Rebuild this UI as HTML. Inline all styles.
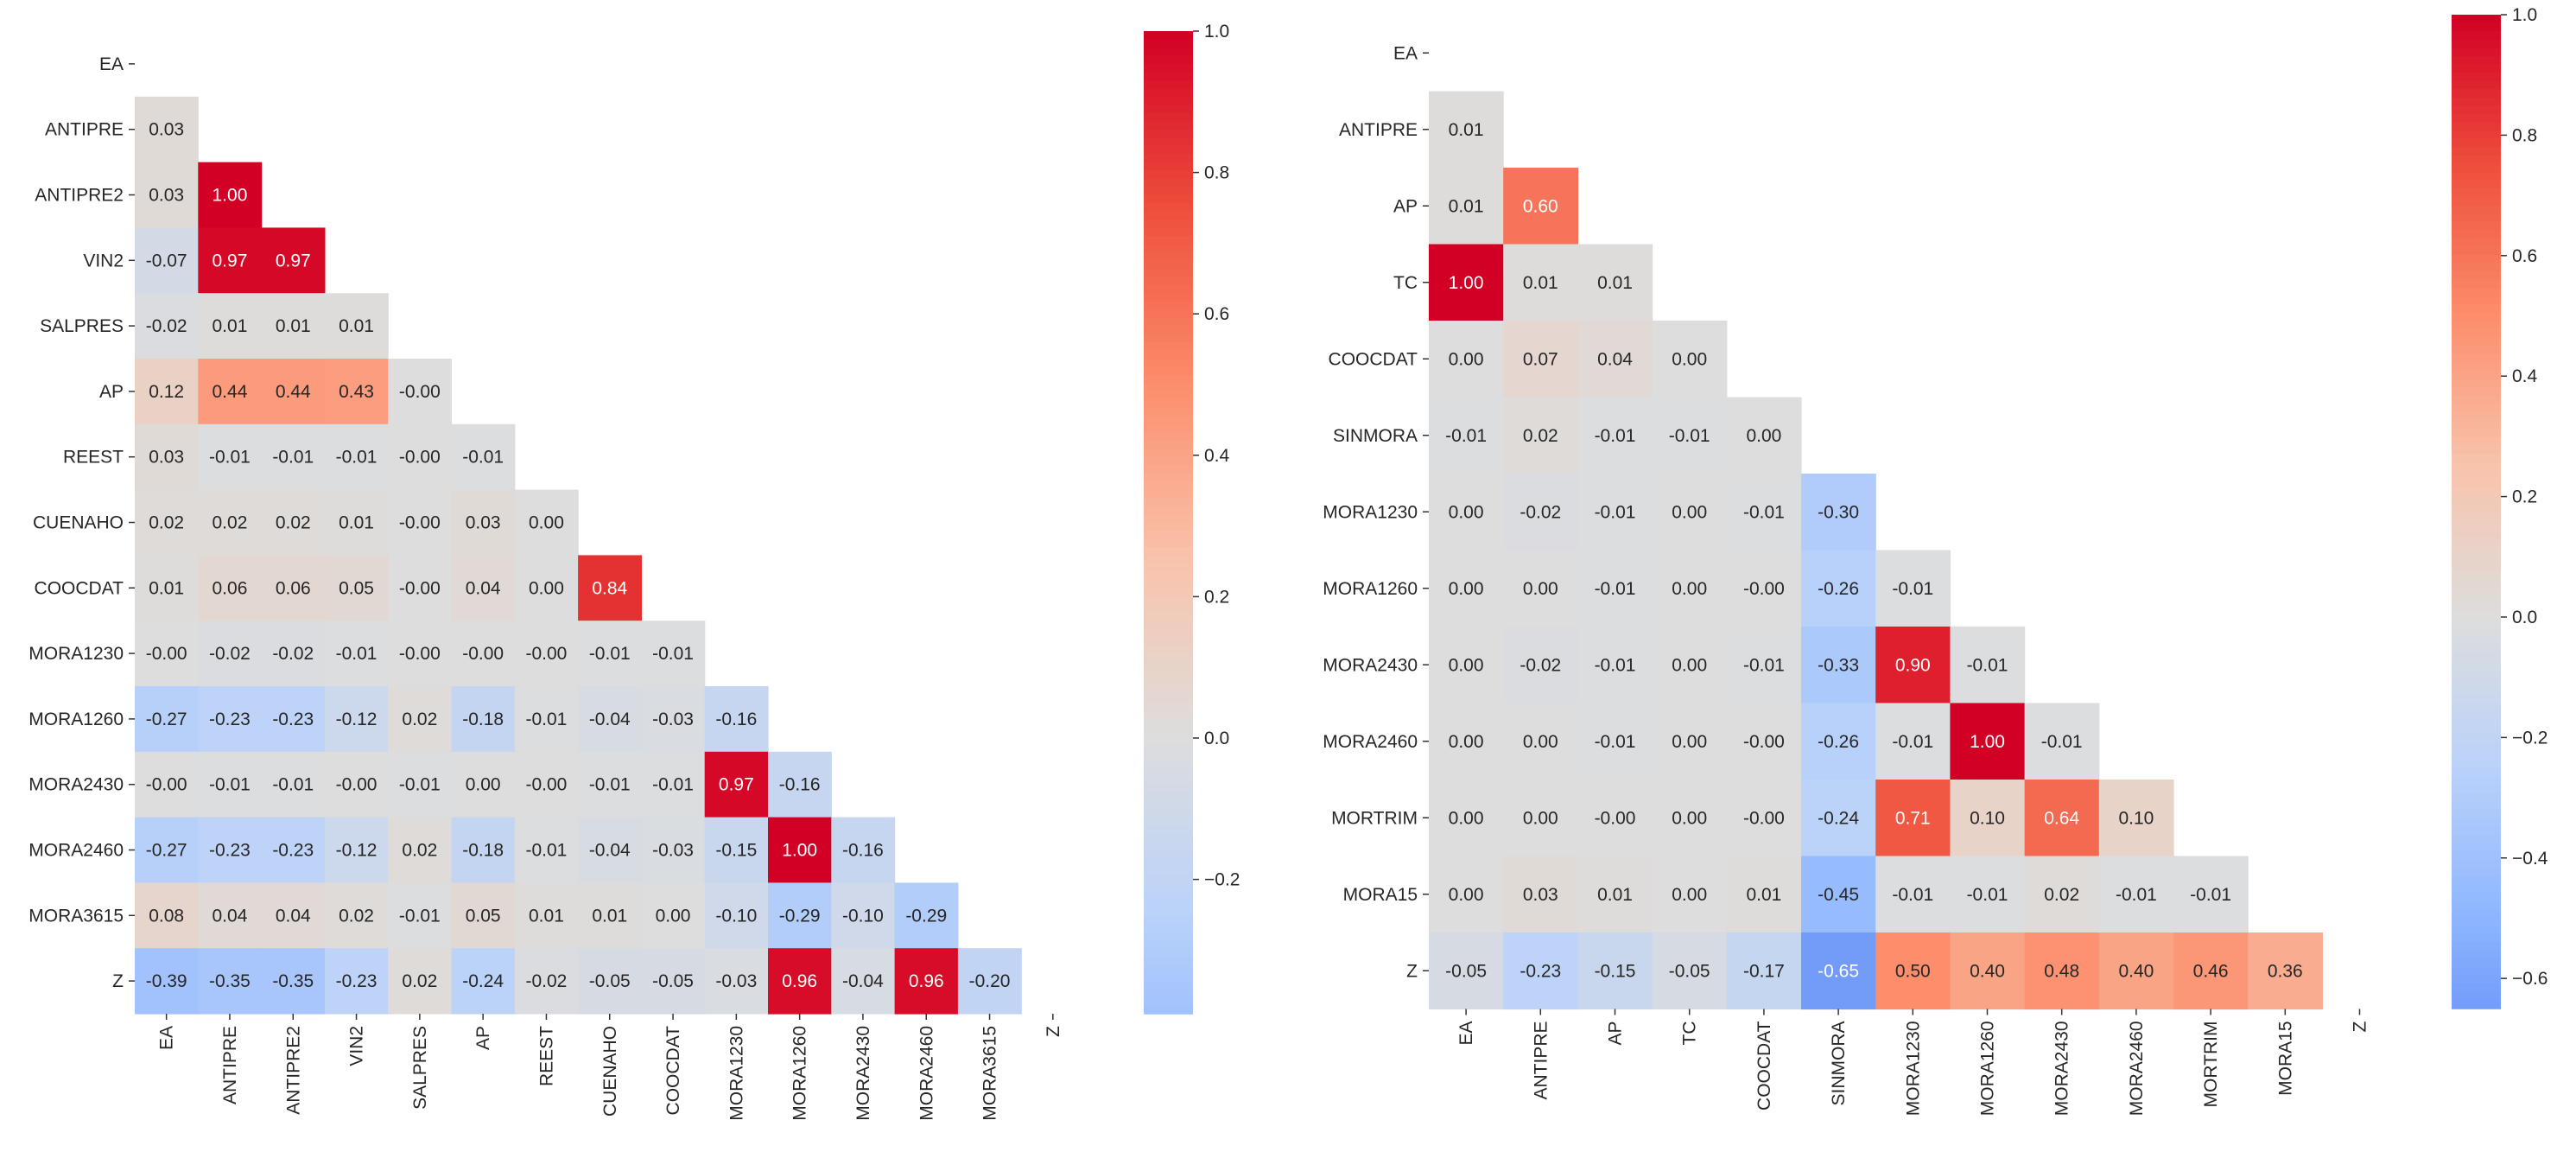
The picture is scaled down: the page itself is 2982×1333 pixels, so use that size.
<!DOCTYPE html>
<html><head><meta charset="utf-8"><style>
html,body{margin:0;padding:0;background:#fff;width:2982px;height:1333px;overflow:hidden}
svg{display:block;font-family:"Liberation Sans",sans-serif}
</style></head><body>
<svg id="fig" width="2982" height="1333" viewBox="0 0 2982 1333" xmlns="http://www.w3.org/2000/svg"></svg>
<script>
// ---- data: left heatmap ----
const leftLabels = ["EA","ANTIPRE","ANTIPRE2","VIN2","SALPRES","AP","REEST","CUENAHO","COOCDAT","MORA1230","MORA1260","MORA2430","MORA2460","MORA3615","Z"];
const leftValues = [
 [],
 [0.03],
 [0.03,1.00],
 [-0.07,0.97,0.97],
 [-0.02,0.01,0.01,0.01],
 [0.12,0.44,0.44,0.43,-0],
 [0.03,-0.01,-0.01,-0.01,-0,-0.01],
 [0.02,0.02,0.02,0.01,-0,0.03,0.00],
 [0.01,0.06,0.06,0.05,-0,0.04,0.00,0.84],
 [-0,-0.02,-0.02,-0.01,-0,-0,-0,-0.01,-0.01],
 [-0.27,-0.23,-0.23,-0.12,0.02,-0.18,-0.01,-0.04,-0.03,-0.16],
 [-0,-0.01,-0.01,-0,-0.01,0.00,-0,-0.01,-0.01,0.97,-0.16],
 [-0.27,-0.23,-0.23,-0.12,0.02,-0.18,-0.01,-0.04,-0.03,-0.15,1.00,-0.16],
 [0.08,0.04,0.04,0.02,-0.01,0.05,0.01,0.01,0.00,-0.10,-0.29,-0.10,-0.29],
 [-0.39,-0.35,-0.35,-0.23,0.02,-0.24,-0.02,-0.05,-0.05,-0.03,0.96,-0.04,0.96,-0.20]
];
const leftTicks = [1.0,0.8,0.6,0.4,0.2,0.0,-0.2];
const leftRange = [-0.39,1.0];
// ---- data: right heatmap ----
const rightLabels = ["EA","ANTIPRE","AP","TC","COOCDAT","SINMORA","MORA1230","MORA1260","MORA2430","MORA2460","MORTRIM","MORA15","Z"];
const rightValues = [
 [],
 [0.01],
 [0.01,0.60],
 [1.00,0.01,0.01],
 [0.00,0.07,0.04,0.00],
 [-0.01,0.02,-0.01,-0.01,0.00],
 [0.00,-0.02,-0.01,0.00,-0.01,-0.30],
 [0.00,0.00,-0.01,0.00,-0,-0.26,-0.01],
 [0.00,-0.02,-0.01,0.00,-0.01,-0.33,0.90,-0.01],
 [0.00,0.00,-0.01,0.00,-0,-0.26,-0.01,1.00,-0.01],
 [0.00,0.00,-0,0.00,-0,-0.24,0.71,0.10,0.64,0.10],
 [0.00,0.03,0.01,0.00,0.01,-0.45,-0.01,-0.01,0.02,-0.01,-0.01],
 [-0.05,-0.23,-0.15,-0.05,-0.17,-0.65,0.50,0.40,0.48,0.40,0.46,0.36]
];
const rightTicks = [1.0,0.8,0.6,0.4,0.2,0.0,-0.2,-0.4,-0.6];
const rightRange = [-0.65,1.0];

const NS="http://www.w3.org/2000/svg";
const svg=document.getElementById('fig');
function mk(tag,attrs,parent){const e=document.createElementNS(NS,tag);for(const k in attrs)e.setAttribute(k,attrs[k]);(parent||svg).appendChild(e);return e;}
const anchors=[[0,[59,76,192]],[0.125,[98,140,245]],[0.25,[141,181,255]],[0.375,[186,210,250]],[0.5,[221,221,221]],[0.625,[248,196,172]],[0.75,[252,142,108]],[0.875,[238,78,60]],[1,[210,0,36]]];
function cmap(t){t=Math.max(0,Math.min(1,t));for(let i=1;i<anchors.length;i++){if(t<=anchors[i][0]){const [a,ca]=anchors[i-1],[b,cb]=anchors[i];const f=(t-a)/(b-a);return ca.map((c,j)=>Math.round(c+(cb[j]-c)*f));}}return anchors[anchors.length-1][1];}
function colorFor(v){return cmap(0.5+v/2);} // centered at 0, span 1
function lum(c){const l=c.map(x=>{x/=255;return x<=0.03928?x/12.92:Math.pow((x+0.055)/1.055,2.4)});return 0.2126*l[0]+0.7152*l[1]+0.0722*l[2];}
function fmt(v){return Object.is(v,-0)?"-0.00":v.toFixed(2);}
function fmtTick(v){const s=Math.abs(v).toFixed(1);return v<0?"\u2212"+s:s;}

function heatmap(cfg){
  const g=mk('g',{});
  
  
  const n=cfg.labels.length;
  const cw=cfg.cw, ch=cfg.ch;
  const xOf=j=>cfg.x0+j*cw, yOf=i=>cfg.y0+i*ch;
  cfg.values.forEach((row,i)=>{
    row.forEach((v,j)=>{
      const c=colorFor(v);
      const r=mk('rect',{x:xOf(j),y:yOf(i),width:cw+0.6,height:ch+0.6,fill:`rgb(${c})`},g);
      
      
      const t=mk('text',{x:xOf(j)+cw/2,y:yOf(i)+ch/2+7,'text-anchor':'middle','font-size':21,fill:lum(c)<0.408?'#ffffff':'#262626'},g);
      t.textContent=fmt(v);
      
      
    });
  });
  cfg.labels.forEach((lab,i)=>{
    const y=yOf(i)+ch/2;
    mk('line',{x1:cfg.x0-7,x2:cfg.x0,y1:y,y2:y,stroke:'#333','stroke-width':1.5},g);
    const t=mk('text',{x:cfg.x0-13,y:y+7,'text-anchor':'end','font-size':21,fill:'#262626'},g);
    t.textContent=lab;
    
    
    const x=xOf(i)+cw/2, yb=cfg.y0+n*ch;
    mk('line',{x1:x,x2:x,y1:yb,y2:yb+7,stroke:'#333','stroke-width':1.5},g);
    const tx=mk('text',{x:0,y:0,'text-anchor':'end','font-size':21,fill:'#262626',transform:`translate(${x+7},${yb+14}) rotate(-90)`},g);
    tx.textContent=lab;
    
    
  });
  // colorbar
  const cb=mk('g',{},g);
  
  
  const [vmin,vmax]=cfg.range;
  const top=cfg.cbTop, bot=cfg.cbBot, unit=(bot-top)/(vmax-vmin);
  const vy=v=>top+(vmax-v)*unit;
  const steps=120;
  for(let s=0;s<steps;s++){
    const v=vmax-(s+0.5)*(vmax-vmin)/steps;
    const c=colorFor(v);
    mk('rect',{x:cfg.cbX,y:top+s*(bot-top)/steps,width:cfg.cbW,height:(bot-top)/steps+0.8,fill:`rgb(${c})`},cb);
  }
  cfg.ticks.forEach(v=>{
    const y=vy(v);
    mk('line',{x1:cfg.cbX+cfg.cbW,x2:cfg.cbX+cfg.cbW+7,y1:y,y2:y,stroke:'#333','stroke-width':1.5},cb);
    const t=mk('text',{x:cfg.cbX+cfg.cbW+13,y:y+7,'font-size':21,fill:'#262626'},cb);
    t.textContent=fmtTick(v);
    
    
  });
}
heatmap({name:'left-heatmap',labels:leftLabels,values:leftValues,ticks:leftTicks,range:leftRange,x0:156,y0:36,cw:73.3,ch:75.8,cbX:1324,cbW:57,cbTop:36,cbBot:1173});
heatmap({name:'right-heatmap',labels:rightLabels,values:rightValues,ticks:rightTicks,range:rightRange,x0:1654,y0:17,cw:86.2,ch:88.5,cbX:2838,cbW:57,cbTop:17,cbBot:1167});
</script>
</body></html>
